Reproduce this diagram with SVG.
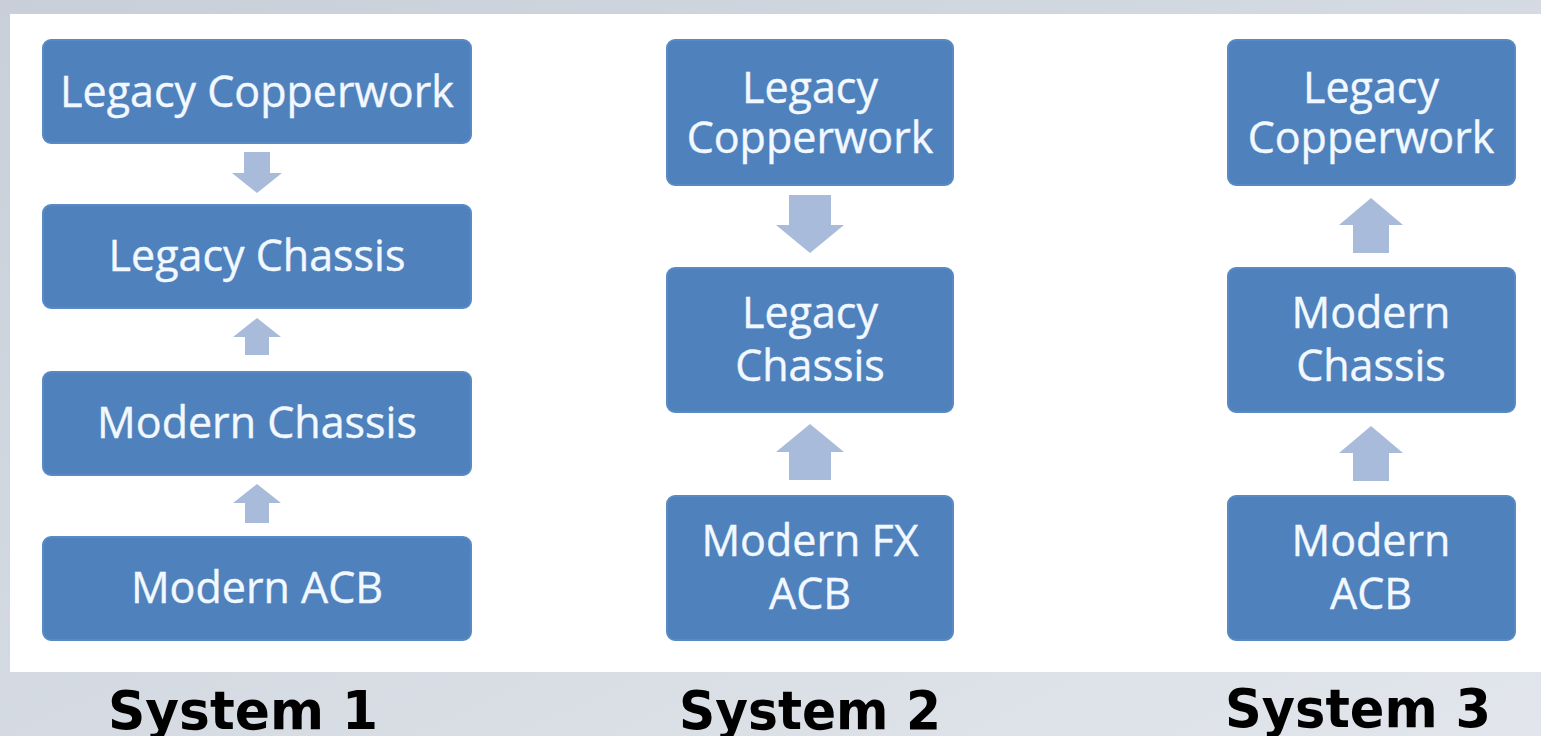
<svg xmlns="http://www.w3.org/2000/svg" width="1541" height="736" viewBox="0 0 1541 736">
<defs>
<linearGradient id="bg" x1="0" y1="0" x2="1" y2="1">
<stop offset="0" stop-color="#c8cfd8"/>
<stop offset="1" stop-color="#e2e6ec"/>
</linearGradient>
</defs>
<style>
.box{fill:#4f81bd;stroke:#5a8ac4;stroke-width:2}
.t{font-family:"Open Sans","Noto Sans",sans-serif;font-size:43px;fill:#f2f8ff;text-anchor:middle;stroke:#f2f8ff;stroke-width:0.4}
.arr{fill:#a8bbda}
.lbl{font-family:"DejaVu Sans",Verdana,sans-serif;font-weight:bold;font-size:54px;fill:#000;text-anchor:middle}
</style>
<rect width="1541" height="736" fill="url(#bg)"/>
<rect x="10" y="14" width="1531" height="658" fill="#ffffff"/>
<g id="connectors">
<polygon class="arr" points="244,152 270,152 270,173 282,173 257,193 232,173 244,173"/>
<polygon class="arr" points="257,318 281,337 269,337 269,355 245,355 245,337 233,337"/>
<polygon class="arr" points="257,484 281,503 269,503 269,523 245,523 245,503 233,503"/>
<polygon class="arr" points="789,195 831,195 831,225 844,225 810,253 776,225 789,225"/>
<polygon class="arr" points="810,424 844,452 831,452 831,480 789,480 789,452 776,452"/>
<polygon class="arr" points="1371,198 1403,225 1389,225 1389,253 1353,253 1353,225 1339,225"/>
<polygon class="arr" points="1371,426 1403,453 1389,453 1389,481 1353,481 1353,453 1339,453"/>
</g>
<g id="s1-legacy-copperwork"><rect class="box" x="43" y="40" width="428" height="103" rx="8"/><text class="t" x="257" y="107">Legacy Copperwork</text></g>
<g id="s1-legacy-chassis"><rect class="box" x="43" y="205" width="428" height="103" rx="8"/><text class="t" x="257" y="271">Legacy Chassis</text></g>
<g id="s1-modern-chassis"><rect class="box" x="43" y="372" width="428" height="103" rx="8"/><text class="t" x="257" y="438">Modern Chassis</text></g>
<g id="s1-modern-acb"><rect class="box" x="43" y="537" width="428" height="103" rx="8"/><text class="t" x="257" y="603">Modern ACB</text></g>
<g id="s2-legacy-copperwork"><rect class="box" x="667" y="40" width="286" height="145" rx="8"/><text class="t" x="810" y="103">Legacy</text><text class="t" x="810" y="153">Copperwork</text></g>
<g id="s2-legacy-chassis"><rect class="box" x="667" y="268" width="286" height="144" rx="8"/><text class="t" x="810" y="328">Legacy</text><text class="t" x="810" y="381">Chassis</text></g>
<g id="s2-modern-fx-acb"><rect class="box" x="667" y="496" width="286" height="144" rx="8"/><text class="t" x="810" y="556">Modern FX</text><text class="t" x="810" y="609">ACB</text></g>
<g id="s3-legacy-copperwork"><rect class="box" x="1228" y="40" width="287" height="145" rx="8"/><text class="t" x="1371" y="103">Legacy</text><text class="t" x="1371" y="153">Copperwork</text></g>
<g id="s3-modern-chassis"><rect class="box" x="1228" y="268" width="287" height="144" rx="8"/><text class="t" x="1371" y="328">Modern</text><text class="t" x="1371" y="381">Chassis</text></g>
<g id="s3-modern-acb"><rect class="box" x="1228" y="496" width="287" height="144" rx="8"/><text class="t" x="1371" y="556">Modern</text><text class="t" x="1371" y="609">ACB</text></g>
<g id="labels">
<text class="lbl" x="243" y="729" textLength="270" lengthAdjust="spacingAndGlyphs">System 1</text>
<text class="lbl" x="810" y="729" textLength="262" lengthAdjust="spacingAndGlyphs">System 2</text>
<text class="lbl" x="1358" y="727" textLength="266" lengthAdjust="spacingAndGlyphs">System 3</text>
</g>
</svg>
